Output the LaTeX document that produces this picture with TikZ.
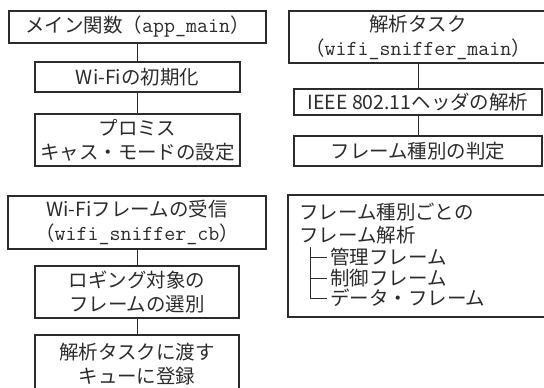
\documentclass[tikz,border=0pt]{standalone}
\usepackage{fontspec}
\setmainfont{Noto Sans CJK JP}
\definecolor{ink}{HTML}{2B2B2B}
\tikzset{
  box/.style={draw=ink, line width=1.2pt, align=center, inner sep=0pt, text=ink,
    font=\fontsize{14.6}{18}\selectfont},
  link/.style={draw=ink, line width=0.7pt},
  item/.style={anchor=west, inner sep=0pt, text=ink, font=\fontsize{14.6}{18}\selectfont},
}
\newcommand{\mono}[1]{{\fontsize{16}{18}\selectfont\ttfamily #1}}
\begin{document}
\begin{tikzpicture}[x=0.75pt,y=-0.75pt]
\useasboundingbox (0,0) rectangle (544,387);
\clip (0,0) rectangle (544,387);
% left top column
\node[box, minimum width=192.75pt, minimum height=24pt] (main) at (137.5,27) {メイン関数（\mono{app\_main}）};
\node[box, minimum width=153.75pt, minimum height=22.5pt] (init) at (137.5,77) {Wi-Fiの初期化};
\node[box, minimum width=153.75pt, minimum height=39pt] (prom) at (137.5,140) {プロミス\\キャス・モードの設定};
\draw[link] (main.south) -- (init.north);
\draw[link] (init.south) -- (prom.north);
% right top column
\node[box, minimum width=193.5pt, minimum height=39pt] (task) at (418,37) {解析タスク\\（\mono{wifi\_sniffer\_main}）};
\node[box, minimum width=186pt, minimum height=19.5pt] (ieee) at (418,102) {IEEE 802.11ヘッダの解析};
\node[box, minimum width=186pt, minimum height=22.5pt] (kind) at (418,151) {フレーム種別の判定};
\draw[link] (task.south) -- (ieee.north);
\draw[link] (ieee.south) -- (kind.north);
% left bottom column
\node[box, minimum width=193.5pt, minimum height=39.75pt] (recv) at (137,222.5) {Wi-Fiフレームの受信\\（\mono{wifi\_sniffer\_cb}）};
\node[box, minimum width=153pt, minimum height=39pt] (sel) at (137,292) {ロギング対象の\\フレームの選別};
\node[box, minimum width=153pt, minimum height=44.25pt] (queue) at (137,364.5) {解析タスクに渡す\\キューに登録};
\draw[link] (recv.south) -- (sel.north);
\draw[link] (sel.south) -- (queue.north);
% right bottom box
\node[box, minimum width=204pt, minimum height=91.5pt] (frm) at (424,256) {};
\node[item] (t1) at (299,212) {フレーム種別ごとの};
\node[item] (t2) at (299,235) {フレーム解析};
\node[item] (t3) at (330,257) {管理フレーム};
\node[item] (t4) at (330,278) {制御フレーム};
\node[item] (t5) at (330,298) {データ・フレーム};
\coordinate (trtop) at (310,247);
\coordinate (trend) at (327,298);
\draw[link] (trtop) |- (trend);
\draw[link] (trtop |- t3.west) -- (trend |- t3.west);
\draw[link] (trtop |- t4.west) -- (trend |- t4.west);
\end{tikzpicture}
\end{document}
